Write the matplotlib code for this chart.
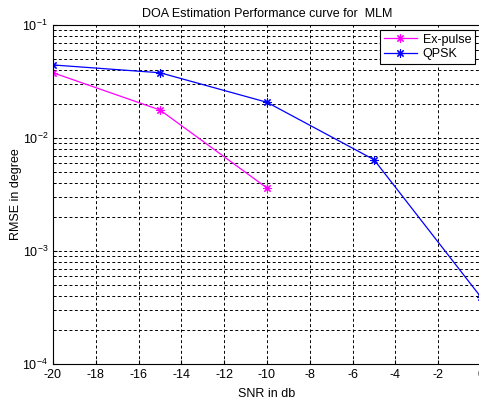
import matplotlib
matplotlib.use("Agg")
import matplotlib.pyplot as plt
from matplotlib.ticker import FixedLocator, LogLocator, NullFormatter

plt.rcParams["font.family"] = ["Liberation Sans", "DejaVu Sans"]
plt.rcParams["mathtext.default"] = "regular"
plt.rcParams["axes.unicode_minus"] = False

# SNR (dB) and RMSE values
snr_ex = [-20, -15, -10]
rmse_ex = [0.0378, 0.0177, 0.00361]
snr_qpsk = [-20, -15, -10, -5, 0]
rmse_qpsk = [0.0443, 0.0378, 0.0207, 0.00643, 0.00039]

x_ticks = [-20, -18, -16, -14, -12, -10, -8, -6, -4, -2, 0]
y_ticks = [1e-4, 1e-3, 1e-2, 1e-1]
y_tick_labels = [r"$10^{-4}$", r"$10^{-3}$", r"$10^{-2}$", r"$10^{-1}$"]

# MATLAB-style '*' marker: eight thin spokes
asterisk = (8, 2, 0)

fig = plt.figure(figsize=(4.79, 4.04), dpi=100)
ax = fig.add_axes([53 / 479, 40 / 404, 428 / 479, 339 / 404])

ax.semilogy(snr_ex, rmse_ex, color="#ff00ff", marker=asterisk, markersize=6,
            markeredgewidth=0.8, lw=0.9, label="Ex-pulse")
ax.semilogy(snr_qpsk, rmse_qpsk, color="#0000ff", marker=asterisk, markersize=6,
            markeredgewidth=0.8, lw=0.9, label="QPSK")

ax.set_xlim(-20, 0)
ax.set_ylim(1e-4, 1e-1)
ax.xaxis.set_major_locator(FixedLocator(x_ticks))
ax.set_yticks(y_ticks)
ax.set_yticklabels(y_tick_labels)
ax.yaxis.set_minor_locator(LogLocator(base=10, subs=range(2, 10)))
ax.yaxis.set_minor_formatter(NullFormatter())

grid_style = dict(color="black", linestyle=(0, (3, 2.5)), linewidth=0.7)
ax.grid(True, which="major", axis="both", **grid_style)
ax.grid(True, which="minor", axis="y", **grid_style)

ax.tick_params(which="both", direction="in", labelsize=9, color="black")
ax.tick_params(which="major", length=3)
ax.tick_params(which="minor", length=2)
for s in ax.spines.values():
    s.set_linewidth(0.8)

ax.set_title("DOA Estimation Performance curve for  MLM", fontsize=9, pad=6)
ax.set_xlabel("SNR in db", fontsize=9, labelpad=5)
ax.set_ylabel("RMSE in degree", fontsize=9)
ax.yaxis.set_label_coords(-0.072, 0.5)

leg = ax.legend(loc="upper right", bbox_to_anchor=(0.986, 0.985), fontsize=9,
                fancybox=False, framealpha=1, edgecolor="black",
                handlelength=2.6, borderpad=0.3, labelspacing=0.2,
                handletextpad=0.5, borderaxespad=0.0)
leg.get_frame().set_linewidth(0.8)

fig.savefig("out.png", dpi=100)
